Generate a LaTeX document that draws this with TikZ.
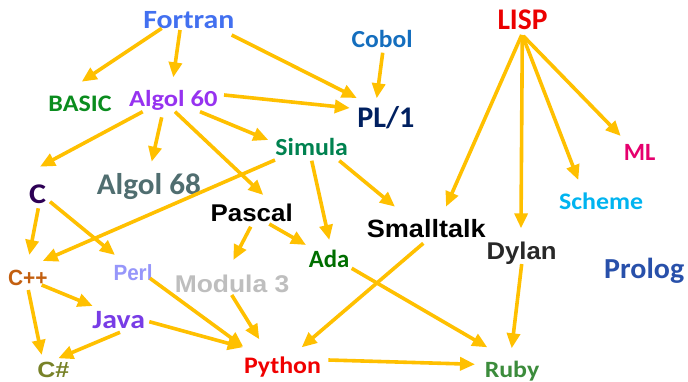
\documentclass[tikz,border=0pt]{standalone}
\usepackage{fontspec}
\usetikzlibrary{arrows.meta}
\newfontfamily\calfont{Carlito}
\newfontfamily\arfont{Liberation Sans}
\definecolor{arrowc}{RGB}{255,192,0}
\definecolor{cFortran}{RGB}{66,112,240}
\definecolor{cCobol}{RGB}{20,110,190}
\definecolor{cLisp}{RGB}{235,0,0}
\definecolor{cBasic}{RGB}{10,140,30}
\definecolor{cAlgolA}{RGB}{150,50,240}
\definecolor{cPL}{RGB}{0,32,96}
\definecolor{cML}{RGB}{230,0,110}
\definecolor{cSimula}{RGB}{0,130,80}
\definecolor{cC}{RGB}{45,0,85}
\definecolor{cAlgolB}{RGB}{80,110,112}
\definecolor{cScheme}{RGB}{0,180,240}
\definecolor{cDylan}{RGB}{40,40,40}
\definecolor{cProlog}{RGB}{40,80,170}
\definecolor{cAda}{RGB}{0,110,0}
\definecolor{cCpp}{RGB}{195,95,15}
\definecolor{cPerl}{RGB}{150,150,250}
\definecolor{cModula}{RGB}{190,190,190}
\definecolor{cJava}{RGB}{120,60,230}
\definecolor{cCsharp}{RGB}{120,130,40}
\definecolor{cPython}{RGB}{240,0,0}
\definecolor{cRuby}{RGB}{60,140,60}
\newcommand\lab[4]{\resizebox{#3pt}{\height}{#1\bfseries\fontsize{#2}{#2}\selectfont #4}}
\newcommand\edge[6]{\draw[arr] ([shift={(#2,#3)}]#1.base) -- ([shift={(#5,#6)}]#4.base);}
\tikzset{
  lbl/.style={anchor=base, inner sep=0pt},
  arr/.style={draw=arrowc, line width=3.6pt, -{Triangle[length=15pt,width=13pt]}}
}
\begin{document}
\begin{tikzpicture}[x=1pt,y=-1pt]
\useasboundingbox[fill=white] (0,0) rectangle (688,382);
% nodes
\node[lbl,text=cFortran] (fortran) at (188.8,29) {\lab{\calfont}{26.3}{91}{Fortran}};
\node[lbl,text=cCobol] (cobol) at (382,48) {\lab{\calfont}{24.5}{61}{Cobol}};
\node[lbl,text=cLisp] (lisp) at (522.5,30) {\lab{\calfont}{30}{50}{LISP}};
\node[lbl,text=cBasic] (basic) at (80,112) {\lab{\calfont}{23.7}{63}{BASIC}};
\node[lbl,text=cAlgolA] (algolA) at (173.3,107) {\lab{\calfont}{23}{88.5}{Algol 60}};
\node[lbl,text=cPL] (pl) at (385.8,128) {\lab{\calfont}{30}{57}{PL/1}};
\node[lbl,text=cML] (ml) at (639.7,161) {\lab{\calfont}{24.8}{31.5}{ML}};
\node[lbl,text=cSimula] (simula) at (311.7,156) {\lab{\calfont}{24.5}{72.5}{Simula}};
\node[lbl,text=cC] (c) at (37.5,203.5) {\lab{\calfont}{28.5}{17}{C}};
\node[lbl,text=cAlgolB] (algolB) at (148.8,195) {\lab{\calfont}{30}{104}{Algol 68}};
\node[lbl,text=cScheme] (scheme) at (601.2,210) {\lab{\calfont}{23.7}{84}{Scheme}};
\node[lbl,text=black] (pascal) at (251.7,222) {\lab{\arfont}{24.2}{82}{Pascal}};
\node[lbl,text=black] (smalltalk) at (426.3,237) {\lab{\arfont}{25}{119}{Smalltalk}};
\node[lbl,text=cDylan] (dylan) at (521.5,260) {\lab{\arfont}{24.2}{70}{Dylan}};
\node[lbl,text=cProlog] (prolog) at (644.2,279) {\lab{\calfont}{29}{80}{Prolog}};
\node[lbl,text=cAda] (ada) at (329,268) {\lab{\calfont}{24.8}{40.5}{Ada}};
\node[lbl,text=cCpp] (cpp) at (27.8,285) {\lab{\arfont}{22}{39.5}{C++}};
\node[lbl,text=cPerl] (perl) at (133,280) {\lab{\arfont}{22}{39}{Perl}};
\node[lbl,text=cModula] (modula) at (232,292) {\lab{\arfont}{24.2}{114.5}{Modula 3}};
\node[lbl,text=cJava] (java) at (118.7,328) {\lab{\calfont}{26.4}{52.5}{Java}};
\node[lbl,text=cCsharp] (csharp) at (53.3,377) {\lab{\arfont}{22}{32}{C\#}};
\node[lbl,text=cPython] (python) at (282.5,373) {\lab{\calfont}{23.7}{77}{Python}};
\node[lbl,text=cRuby] (ruby) at (512,377) {\lab{\calfont}{23.3}{54.5}{Ruby}};
% connectors
\edge{fortran}{-27.1}{-0.7}{basic}{1.7}{-30.3}
\edge{fortran}{-8.8}{1}{algolA}{0}{-29.7}
\edge{fortran}{42.9}{6}{pl}{-29}{-30}
\edge{cobol}{0.7}{4.7}{pl}{-9.1}{-29.7}
\edge{algolA}{50.7}{-12}{pl}{-36}{-20}
\edge{algolA}{-30.6}{4.7}{c}{2.5}{-36.8}
\edge{algolA}{-11.6}{10.3}{algolB}{2.9}{-33.3}
\edge{algolA}{26.7}{4.7}{simula}{-43.4}{-16}
\edge{algolA}{1.7}{4.7}{pascal}{11.6}{-27}
\edge{simula}{-36.7}{4}{cpp}{14.9}{-24}
\edge{simula}{0}{4.7}{ada}{0.3}{-28}
\edge{simula}{27.6}{4.7}{smalltalk}{-31.3}{-30.3}
\edge{c}{0.8}{4.8}{cpp}{1.5}{-30}
\edge{c}{12.5}{-1.8}{perl}{-18}{-25}
\edge{pascal}{-1}{4.7}{modula}{1.3}{-32}
\edge{pascal}{17.6}{2}{ada}{-23}{-23}
\edge{cpp}{13.9}{0}{java}{-26}{-22}
\edge{cpp}{0.5}{5}{csharp}{-11.6}{-22}
\edge{java}{1.3}{4.3}{csharp}{5}{-18.7}
\edge{java}{30.6}{-6.3}{python}{-39.8}{-25.7}
\edge{perl}{17}{-1.7}{python}{-39.2}{-26.3}
\edge{modula}{-0.3}{3}{python}{-23.2}{-33.7}
\edge{smalltalk}{-3}{6.3}{python}{19.2}{-25.7}
\edge{ada}{22.7}{0.3}{ruby}{-24.7}{-29.7}
\edge{python}{45.8}{-13}{ruby}{-37}{-12.7}
\edge{dylan}{0.2}{4}{ruby}{-0.3}{-28.7}
\edge{lisp}{-0.8}{5}{smalltalk}{19.7}{-30.3}
\edge{lisp}{-0.2}{5}{dylan}{-0.5}{-31.7}
\edge{lisp}{0.2}{6}{scheme}{-22.9}{-30}
\edge{lisp}{0.8}{6}{ml}{-19}{-25}
\end{tikzpicture}
\end{document}
